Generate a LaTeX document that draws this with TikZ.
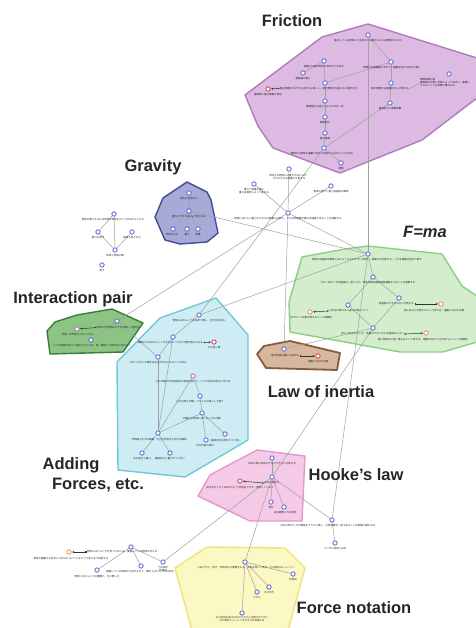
\documentclass[tikz,border=0pt]{standalone}
\usepackage{fontspec}
\setmainfont{Liberation Sans}
\newfontfamily\jp{Noto Sans CJK JP}
\usetikzlibrary{arrows.meta}
\pgfdeclarelayer{bg}
\pgfdeclarelayer{edges}
\pgfsetlayers{bg,edges,main}
\definecolor{fricF}{RGB}{220,186,225}\definecolor{fricD}{RGB}{178,122,190}
\definecolor{gravF}{RGB}{166,170,214}\definecolor{gravD}{RGB}{70,76,150}
\definecolor{fmaF}{RGB}{212,238,205}\definecolor{fmaD}{RGB}{140,206,132}
\definecolor{inerF}{RGB}{214,184,158}\definecolor{inerD}{RGB}{135,92,60}
\definecolor{interF}{RGB}{140,196,132}\definecolor{interD}{RGB}{52,128,62}
\definecolor{cyanF}{RGB}{206,236,243}\definecolor{cyanD}{RGB}{112,200,216}
\definecolor{hookF}{RGB}{244,202,230}\definecolor{hookD}{RGB}{228,152,204}
\definecolor{yelF}{RGB}{251,248,196}\definecolor{yelD}{RGB}{238,228,118}
\definecolor{nodeblue}{RGB}{80,96,214}
\definecolor{nodered}{RGB}{220,50,60}
\definecolor{nodeorange}{RGB}{232,140,70}
\definecolor{nodepurple}{RGB}{170,110,180}
\definecolor{nodemag}{RGB}{190,90,170}
\definecolor{edgegray}{RGB}{160,160,160}
\definecolor{txtgray}{RGB}{35,35,35}
\definecolor{labgray}{RGB}{38,38,38}
\begin{document}
\begin{tikzpicture}[x=1pt,y=-1pt,
  cnode/.style={circle, draw=#1, fill=white, inner sep=0pt, minimum size=4.4pt, line width=0.75pt},
  bn/.style={cnode=nodeblue},
  rn/.style={cnode=nodered},
  orn/.style={cnode=nodeorange},
  tx/.style={font=\jp\fontsize{2.5}{3}\selectfont, text=txtgray, inner sep=0pt, align=center},
  ed/.style={draw=edgegray, line width=0.5pt},
  arr/.style={draw=black!80, line width=0.5pt, {Square[length=1.2pt,width=1.2pt]}-{Stealth[length=2.2pt,width=2.2pt]}, shorten >=0.6pt, shorten <=0.6pt},
  lab/.style={font=\bfseries\fontsize{16.5}{18}\selectfont, text=labgray, inner sep=0pt},
  poly/.style 2 args={fill=#1, draw=#2, line width=1.4pt, line join=round}
]
\useasboundingbox (0,0) rectangle (475,628);

\begin{pgfonlayer}{bg}
\fill[white] (0,0) rectangle (475,628);
\path[poly={fricF}{fricD}] (245,95) -- (322,37) -- (368,24) -- (477,58) -- (477,98) -- (422,140) -- (340,173) -- (273,148) -- (258,126) -- cycle;
\path[poly={gravF}{gravD}] (155,217) -- (163,198) -- (187,182) -- (207,192) -- (211,200) -- (218,233) -- (207,242) -- (180,244) -- (165,240) -- cycle;
\path[poly={fmaF}{fmaD}] (302,257) -- (345,249) -- (368,246) -- (442,254) -- (462,286) -- (477,296) -- (477,342) -- (443,352) -- (400,352) -- (290,332) -- (289,302) -- cycle;
\path[poly={inerF}{inerD}, line width=1.8pt] (257,354) -- (264,346) -- (290,341) -- (340,353) -- (337,370) -- (266,368) -- cycle;
\path[poly={interF}{interD}] (47,331) -- (55,322) -- (77,315) -- (112,309) -- (143,323) -- (123,352) -- (50,354) -- cycle;
\path[poly={cyanF}{cyanD}] (117,362) -- (160,318) -- (216,298) -- (248,335) -- (248,440) -- (185,477) -- (118,470) -- cycle;
\path[poly={hookF}{hookD}] (198,496) -- (210,475) -- (257,450) -- (305,456) -- (302,521) -- (250,521) -- cycle;
\path[poly={yelF}{yelD}] (175,568) -- (207,547) -- (285,548) -- (305,568) -- (287,634) -- (193,634) -- cycle;
\end{pgfonlayer}

% labels
\node[lab] (labFric) at (292,21) {Friction};
\node[lab] (labGrav) at (153,167) {Gravity};
\node[lab, font=\bfseries\itshape\fontsize{16.5}{18}\selectfont] (labFma) at (425,232) {F=ma};
\node[lab] (labInter) at (73,299) {Interaction pair};
\node[lab] (labIner) at (321,392) {Law of inertia};
\node[lab] (labAdd) at (71,465) {Adding};
\node[lab] (labAdd2) at (98,485) {Forces, etc.};
\node[lab] (labHook) at (356,475) {Hooke’s law};
\node[lab] (labNot) at (354,608) {Force notation};

% ---------------- Friction
\node[bn] (N1) at (368,35) {};
\node[tx] (N1t) at (368,41) {静止している物体に力を加えても動かないのは摩擦力のため};
\node[bn] (N2) at (391,62) {};
\node[tx] (N2t) at (392,68) {摩擦力は接触面に平行で、運動を妨げる向きに働く};
\node[bn] (N3) at (324,61) {};
\node[tx] (N3t) at (324,67) {摩擦力は面が物体に及ぼす力である};
\node[bn] (N4) at (303,73) {};
\node[tx] (N4t) at (303,79) {接触面の粗さ};
\node[rn] (R1) at (268,89) {};
\node[tx] (R1t) at (268,95) {動摩擦と静止摩擦の区別};
\node[bn] (N5) at (325,83) {};
\node[tx, anchor=west] (N5t) at (280,88.5) {静止摩擦力の大きさは外力に等しく、最大摩擦力を超えると動き出す};
\node[bn] (N6) at (391,83) {};
\node[tx] (N6t) at (390,89) {最大摩擦力は垂直抗力に比例する};
\node[bn] (N7) at (449,74) {};
\node[tx, align=left] (N7t) at (445,83) {摩擦係数の値\\接触面の材質と状態によって決まり、面積に\\よらないことを実験で確かめる};
\node[bn] (N8) at (325,101) {};
\node[tx] (N8t) at (325,107) {動摩擦力は速さによらずほぼ一定};
\node[bn] (N9) at (390,103) {};
\node[tx] (N9t) at (390,109) {垂直抗力と摩擦係数};
\node[bn] (N10) at (325,117) {};
\node[tx] (N10t) at (325,123) {動摩擦力};
\node[bn] (N11) at (325,133) {};
\node[tx] (N11t) at (325,138.5) {静止摩擦};
\node[bn] (N12) at (324,148) {};
\node[tx] (N12t) at (322,154) {摩擦力は物体の運動の向きと逆向きにはたらく力である};
\node[bn] (N13) at (341,163) {};
\node[tx] (N13t) at (341,168.5) {摩擦};

% ---------------- middle (weight)
\node[bn] (M1) at (289,169) {};
\node[tx] (M1t) at (289,177) {地球上の物体には重力がはたらき、\\その大きさは質量に比例する};
\node[bn] (M2) at (254,184) {};
\node[tx] (M2t) at (254,191) {重さと質量の違い\\重さは場所によって変わる};
\node[bn] (M3) at (331,186) {};
\node[tx] (M3t) at (331,192) {物体の落下と重力加速度の関係};
\node[bn] (M4) at (288,213) {};
\node[tx] (M4t) at (288,219) {物体にはたらく重力の大きさは質量に比例し、その比例定数が重力加速度であることを理解する};

% ---------------- Gravity
\node[bn] (G1) at (189,193) {};
\node[tx] (G1t) at (189,199) {重力は万有引力};
\node[bn] (G2) at (189,211) {};
\node[tx] (G2t) at (189,217) {重力の大きさはmgで表される};
\node[bn] (G3) at (173,229) {};
\node[tx] (G3t) at (172,235) {地球の引力};
\node[bn] (G4) at (187,229) {};
\node[tx] (G4t) at (187,235) {重さ};
\node[bn] (G5) at (198,229) {};
\node[tx] (G5t) at (198,235) {質量};

% ---------------- left cluster
\node[bn] (P1) at (114,214) {};
\node[tx] (P1t) at (113,220) {物体が落下するのは地球が物体を引く力がはたらくから};
\node[bn] (P2) at (98,232) {};
\node[tx] (P2t) at (98,237.5) {重力の向き};
\node[bn] (P3) at (132,232) {};
\node[tx] (P3t) at (132,237.5) {鉛直下向きの力};
\node[bn] (P4) at (115,250) {};
\node[tx] (P4t) at (115,255.5) {地球と物体の間};
\node[bn] (P5) at (102,265) {};
\node[tx] (P5t) at (102,270.5) {落下};

% ---------------- F=ma
\node[bn] (F1) at (368,254) {};
\node[tx] (F1t) at (367,260) {物体の加速度は物体にはたらく力の大きさに比例し、質量に反比例する。これを運動方程式で表す};
\node[bn] (F2) at (373,277) {};
\node[tx] (F2t) at (368,283) {力が一定のとき加速度は一定となり、物体は等加速度直線運動をすることを理解する};
\node[bn] (F3) at (348,305) {};
\node[tx, anchor=west] (F3t) at (329,311) {力を加え続けると速さが増していく};
\node[orn] (F3r) at (310,312) {};
\node[tx] (F3rt) at (311,318) {力がなくても動き続けるという誤概念};
\node[bn] (F4) at (399,298) {};
\node[tx, anchor=east] (F4t) at (414,304) {加速度の大きさは力に比例する};
\node[orn] (F4r) at (441,304) {};
\node[tx, anchor=west] (F4rt) at (404,310.5) {速さは力に比例するという考え方、運動には力が必要};
\node[bn] (F5) at (373,328) {};
\node[tx, anchor=east] (F5t) at (404,334) {同じ力を加えたとき、質量が大きいほど加速度は小さい};
\node[orn] (F5r) at (426,333) {};
\node[tx] (F5rt) at (423,339.5) {重い物体ほど速く落ちるという考え方、運動の向きに力がはたらくという誤概念};

% ---------------- Law of inertia
\node[bn] (L1) at (284,349) {};
\node[tx, anchor=east] (L1t) at (299,356) {静止物体は静止し続ける};
\node[rn] (L2) at (318,356) {};
\node[tx] (L2t) at (318,362) {運動には力が必要};

% ---------------- Interaction pair
\node[bn] (I1) at (117,321) {};
\node[tx, anchor=west] (I1t) at (97,327.5) {作用と反作用は大きさが等しく逆向き};
\node[cnode=nodepurple] (I2) at (77,329) {};
\node[tx] (I2t) at (78,334.5) {作用・反作用と力のつり合い};
\node[bn] (I3) at (91,340) {};
\node[tx] (I3t) at (92,345.5) {二つの物体が互いに及ぼし合う力は、同一直線上で逆向きにはたらく};

% ---------------- Adding forces
\node[bn] (C1) at (199,315) {};
\node[tx] (C1t) at (199,320.5) {物体にはたらく力を矢印で表し、合力を求める};
\node[bn] (C2) at (173,337) {};
\node[tx, anchor=east] (C2t) at (203,342.5) {複数の力がはたらくとき合力は一つの力で置き換えられる};
\node[rn] (C2r) at (214,342) {};
\node[tx] (C2rt) at (214,348) {力の足し算};
\node[bn] (C3) at (158,357) {};
\node[tx] (C3t) at (158,363) {力のつり合いの条件は合力がゼロになることである};
\node[cnode=nodemag] (C4) at (193,376) {};
\node[tx] (C4t) at (193,381.5) {力の分解は平行四辺形の法則を用いて、二つの方向の成分に分ける};
\node[bn] (C5) at (200,396) {};
\node[tx] (C5t) at (200,401.5) {力の合成と分解、ベクトルの和として扱う};
\node[bn] (C6) at (202,413) {};
\node[tx] (C6t) at (202,418.5) {斜面上の物体にはたらく力の分解};
\node[bn] (C7) at (158,433) {};
\node[tx] (C7t) at (159,439.5) {作用線上の力の移動、合力の作用点と向きの関係};
\node[bn] (C8) at (206,440) {};
\node[tx] (C8t) at (205,445.5) {水平方向の成分};
\node[bn] (C9) at (225,434) {};
\node[tx] (C9t) at (226,440.5) {鉛直方向の成分とつり合い};
\node[bn] (C10) at (142,453) {};
\node[tx] (C10t) at (142,458.5) {糸の張力と重力};
\node[bn] (C11) at (170,453) {};
\node[tx] (C11t) at (170,458.5) {垂直抗力と重力のつり合い};

% ---------------- Hooke's law
\node[bn] (H1) at (272,458) {};
\node[tx] (H1t) at (272,464) {ばねの伸びは加えた力の大きさに比例する};
\node[bn] (H2) at (272,477) {};
\node[tx, anchor=west] (H2t) at (264,483) {ばねの弾性力};
\node[rn] (H2r) at (240,481) {};
\node[tx] (H2rt) at (240,487.5) {ばねを引く力とばねが引く力が区別できず、混同してしまう};
\node[bn] (H3) at (271,502) {};
\node[tx] (H3t) at (271,507.5) {伸び};
\node[bn] (H4i) at (284,507) {};
\node[tx] (H4it) at (285,512.5) {ばね定数と力の単位};
\node[bn] (H4) at (332,520) {};
\node[tx] (H4t) at (328,526) {ばねの伸びと力の関係をグラフに表し、比例定数が一定であることを実験で確かめる};
\node[bn] (H5) at (335,543) {};
\node[tx] (H5t) at (335,549) {フックの法則とばね};

% ---------------- bottom-left cluster
\node[bn] (B1) at (131,547) {};
\node[tx, anchor=west] (B1t) at (87,552) {物体にはたらく力を見つけるには、接触している物体を考える};
\node[orn] (B0) at (69,552) {};
\node[tx] (B0t) at (71,559) {物体が運動する向きに力がはたらいているという考え方で説明する};
\node[bn] (B2) at (97,570) {};
\node[tx] (B2t) at (97,577) {物体にはたらく力の種類と、力の表し方};
\node[bn] (B3) at (141,566) {};
\node[tx] (B3t) at (140,572) {接触している物体から受ける力と、離れてはたらく力の区別};
\node[bn] (B4) at (163,562) {};
\node[tx] (B4t) at (163,569.5) {力の図示\\作用点};

% ---------------- Force notation
\node[bn] (T1) at (245,562) {};
\node[tx] (T1t) at (246,567.5) {力は大きさ・向き・作用点の三要素をもち、矢印を用いて表す。力の単位はニュートン};
\node[bn] (T2) at (293,574) {};
\node[tx] (T2t) at (293,579.5) {作用点};
\node[bn] (T3) at (269,587) {};
\node[tx] (T3t) at (269,592.5) {力の向き};
\node[bn] (T4) at (257,592) {};
\node[tx] (T4t) at (257,597.5) {大きさ};
\node[bn] (T5) at (242,613) {};
\node[tx] (T5t) at (242,619) {力の矢印の長さは力の大きさに比例させてかく\\力の単位ニュートンの大きさを体感する};

% ---------------- arrows (text to misconception nodes)
\draw[arr] (N5t.west) -- (R1);
\draw[arr] (F3t.west) -- (F3r);
\draw[arr] (F4t.east) -- (F4r);
\draw[arr] (F5t.east) -- (F5r);
\draw[arr] (L1t.east) -- (L2);
\draw[arr] (I1t.west) -- (I2);
\draw[arr] (C2t.east) -- (C2r);
\draw[arr] (H2t.west) -- (H2r);
\draw[arr] (B1t.west) -- (B0);

% ---------------- connectors
\begin{pgfonlayer}{edges}
\draw[ed] (N1) -- (N2);
\draw[ed] (N2) -- (N5);
\draw[ed] (N3) -- (N5);
\draw[ed] (N4) -- (N3);
\draw[ed] (N2) -- (N6);
\draw[ed] (N6) -- (N9);
\draw[ed] (N6t.east) -- (N7t.west);
\draw[ed] (N5) -- (N8);
\draw[ed] (N8) -- (N10);
\draw[ed] (N10) -- (N11);
\draw[ed] (N11) -- (N12);
\draw[ed] (N12) -- (N13);
\draw[ed] (N12) -- (N9);
\draw[ed] (N1) -- (F1);
\draw[ed] (N12) -- (C1);
\draw[ed] (M1) -- (M4);
\draw[ed] (M2) -- (M4);
\draw[ed] (M3) -- (M4);
\draw[ed] (M4) -- (F1);
\draw[ed] (M4) -- (L1);
\draw[ed] (I1) -- (M4);
\draw[ed] (P1) -- (P2);
\draw[ed] (P1) -- (P4);
\draw[ed] (P2) -- (P4);
\draw[ed] (P3) -- (P4);
\draw[ed] (G1) -- (G2);
\draw[ed] (G2) -- (G3);
\draw[ed] (G2) -- (G4);
\draw[ed] (G2) -- (G5);
\draw[ed] (G2) -- (F1);
\draw[ed] (F1) -- (F2);
\draw[ed] (F2) -- (F3);
\draw[ed] (F2) -- (F4);
\draw[ed] (F3) -- (F5);
\draw[ed] (F4) -- (F5);
\draw[ed] (F5) -- (L1);
\draw[ed] (F5) -- (H2);
\draw[ed] (F1) -- (H4);
\draw[ed] (C1) -- (F1);
\draw[ed] (I1) -- (I3);
\draw[ed] (I1) -- (C3);
\draw[ed] (C1) -- (C2);
\draw[ed] (C2) -- (C3);
\draw[ed] (C2) -- (C7);
\draw[ed] (C3) -- (C7);
\draw[ed] (C4) -- (C5);
\draw[ed] (C4) -- (C7);
\draw[ed] (C5) -- (C6);
\draw[ed] (C6) -- (C7);
\draw[ed] (C6) -- (C8);
\draw[ed] (C6) -- (C9);
\draw[ed] (C7) -- (C10);
\draw[ed] (C7) -- (C11);
\draw[ed] (H1) -- (H2);
\draw[ed] (H2) -- (H3);
\draw[ed] (H2) -- (H4i);
\draw[ed] (H2) -- (H4);
\draw[ed] (H4) -- (H5);
\draw[ed] (H2) -- (T1);
\draw[ed] (H2) -- (B4);
\draw[ed] (B1) -- (B2);
\draw[ed] (B1) -- (B3);
\draw[ed] (B1) -- (B4);
\draw[ed] (T1) -- (T2);
\draw[ed] (T1) -- (T3);
\draw[ed] (T1) -- (T4);
\draw[ed] (T1) -- (T5);
\end{pgfonlayer}
\end{tikzpicture}
\end{document}
